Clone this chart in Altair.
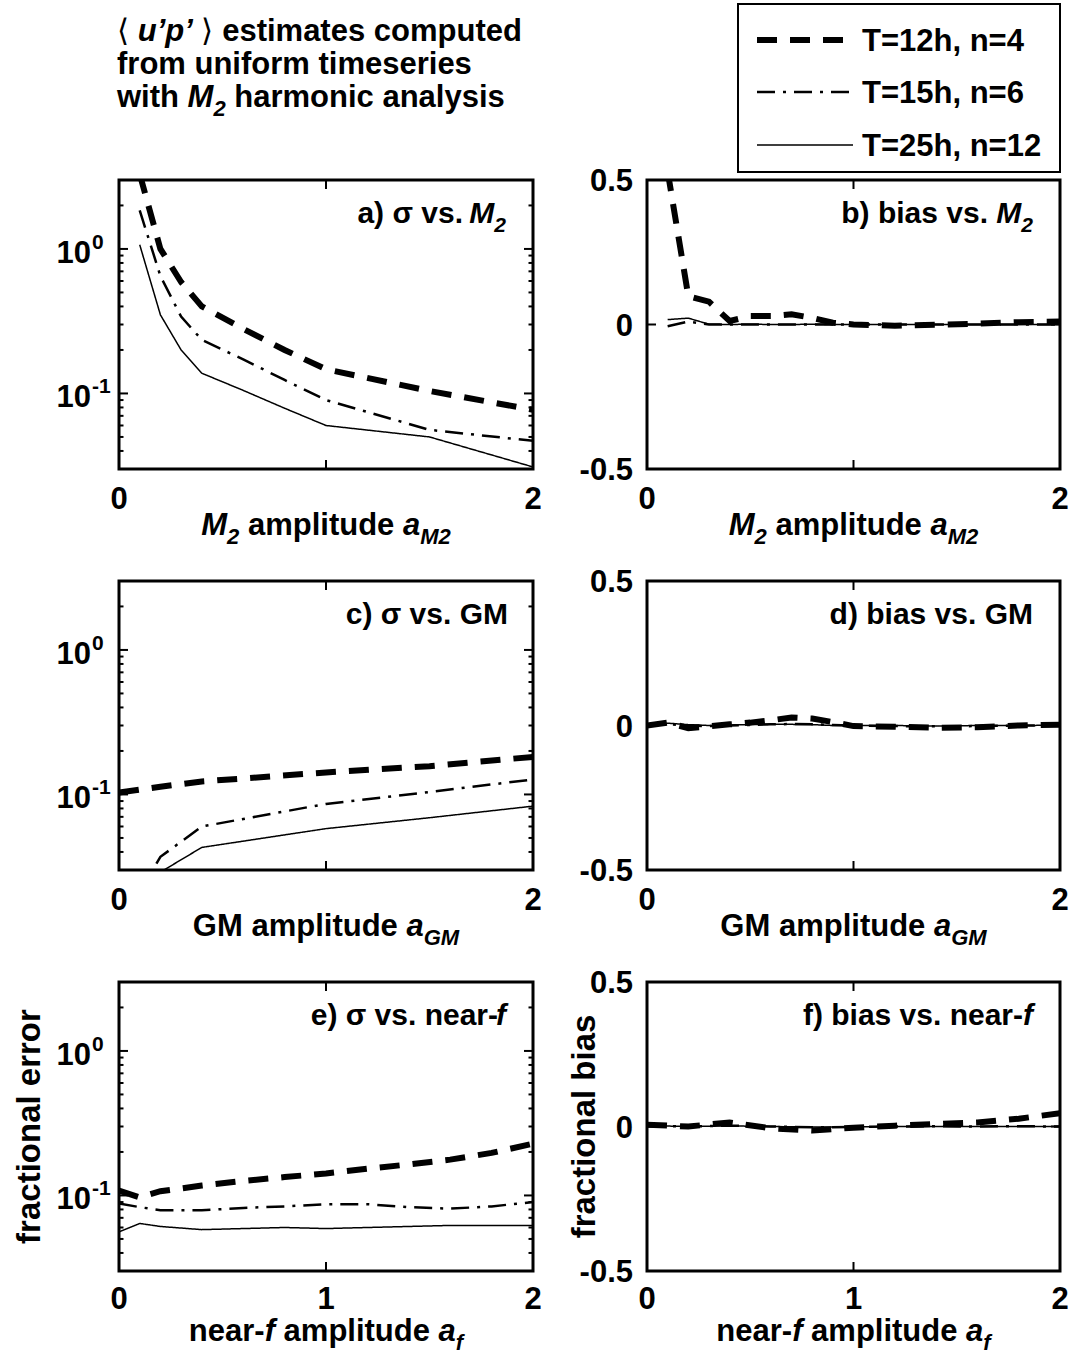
import altair as alt
import pandas as pd

FONT = "Liberation Sans"
SERIES = ["T=12h, n=4", "T=15h, n=6", "T=25h, n=12"]
DASH = [[20, 13], [18, 8, 3, 8], [1, 0]]
LW = [6, 2.5, 1.5]

# (a) sigma vs M2
A_X = [0.1, 0.2, 0.3, 0.4, 0.6, 0.8, 1.0, 1.5, 2.0]
A_T12 = [3.3, 1.0, 0.59, 0.40, 0.28, 0.20, 0.147, 0.104, 0.077]
A_T15 = [1.85, 0.65, 0.34, 0.235, 0.172, 0.124, 0.090, 0.056, 0.047]
A_T25 = [1.07, 0.35, 0.20, 0.138, 0.105, 0.079, 0.060, 0.050, 0.031]

# (b) bias vs M2
B_X = [0.1, 0.2, 0.3, 0.4, 0.5, 0.6, 0.7, 0.8, 0.9, 1.0, 1.2, 1.4, 1.6, 1.8, 2.0]
B_T12 = [0.53, 0.098, 0.079, 0.012, 0.029, 0.029, 0.035, 0.023, 0.006, 0.0, -0.004, -0.001, 0.003, 0.008, 0.01]
B_T15 = [-0.006, 0.010, 0.0, 0.0, 0.0, 0.0, 0.0, 0.0, 0.0, 0.0, 0.0, 0.0, 0.0, 0.0, 0.0]
B_T25 = [0.017, 0.022, 0.001, 0.0, 0.001, 0.0, 0.0, 0.001, 0.0, 0.0, 0.0, 0.0, 0.0, 0.0, 0.0]

# (c) sigma vs GM
C_X = [0.0, 0.2, 0.4, 1.0, 1.5, 2.0]
C_T12 = [0.103, 0.113, 0.123, 0.142, 0.157, 0.182]
C_T15 = [0.012, 0.037, 0.060, 0.086, 0.104, 0.127]
C_T25 = [0.019, 0.029, 0.043, 0.058, 0.069, 0.083]

# (d) bias vs GM
D_X = [0, 0.1, 0.2, 0.3, 0.4, 0.5, 0.6, 0.7, 0.8, 0.9, 1.0, 1.2, 1.4, 1.6, 1.8, 2.0]
D_T12 = [0.0, 0.010, -0.009, -0.003, 0.004, 0.010, 0.018, 0.028, 0.024, 0.012, -0.002, -0.004, -0.008, -0.006, 0.0, 0.003]
D_T15 = [0.0, 0.005, 0.0, -0.002, 0.0, 0.002, 0.004, 0.005, 0.004, 0.002, 0.0, -0.002, -0.003, -0.002, 0.0, 0.0]
D_T25 = [0.0, 0.008, 0.003, 0.0, 0.002, 0.003, 0.004, 0.004, 0.003, 0.0, 0.0, 0.0, -0.002, 0.0, 0.0, 0.001]

# (e) sigma vs near-f
E_X = [0, 0.1, 0.2, 0.4, 0.6, 0.8, 1.0, 1.2, 1.4, 1.6, 1.8, 2.0]
E_T12 = [0.108, 0.097, 0.107, 0.117, 0.126, 0.134, 0.142, 0.153, 0.164, 0.177, 0.197, 0.228]
E_T15 = [0.088, 0.083, 0.079, 0.079, 0.082, 0.084, 0.087, 0.087, 0.083, 0.081, 0.084, 0.090]
E_T25 = [0.056, 0.064, 0.061, 0.058, 0.059, 0.060, 0.059, 0.060, 0.061, 0.062, 0.062, 0.062]

# (f) bias vs near-f
F_X = [0, 0.2, 0.4, 0.6, 0.8, 1.0, 1.2, 1.4, 1.6, 1.8, 2.0]
F_T12 = [0.006, 0.0, 0.014, -0.006, -0.014, -0.004, 0.003, 0.009, 0.014, 0.027, 0.046]
F_T15 = [0.002, 0.0, 0.003, 0.0, -0.003, -0.002, 0.0, 0.001, 0.0, 0.001, 0.0]
F_T25 = [0.003, 0.0, 0.002, 0.0, -0.002, -0.001, 0.0, 0.0, 0.0, 0.0, 0.0]

LOG_MAJOR = [0.1, 1.0]
LOG_MINOR = [0.03, 0.04, 0.05, 0.06, 0.07, 0.08, 0.09, 0.2, 0.3, 0.4, 0.5, 0.6, 0.7, 0.8, 0.9, 2.0, 3.0]
LOG_LABELS = ["10", "10"]
LOG_EXP = ["-1", "0"]
BIAS_TICKS = [-0.5, 0.0, 0.5]
BIAS_LABELS = ["-0.5", "0", "0.5"]

H = 289
WL = 414
WR = 413
FS = 31       # general text
TICK_FS = 31  # tick labels
LAB_FS = 30   # panel labels
YT_FS = 33    # y titles
SUB = 22

MET = {' ': 278, 'a': 556, 'b': 611, 'c': 556, 'd': 611, 'e': 556, 'f': 333, 'g': 611, 'h': 611,
       'i': 278, 'l': 278, 'm': 889, 'n': 611, 'o': 611, 'p': 611, 'r': 389, 's': 556, 't': 333,
       'u': 611, 'v': 556, 'w': 778, 'y': 556, 'x': 556, 'M': 833, 'G': 778, 'T': 611, '-': 333,
       '=': 584, ',': 278, '.': 278, ')': 333, 'σ': 618, '’': 278, "'": 238, '⟨': 390, '⟩': 390}


def tw(s, size):
    return sum(MET.get(ch, 556) for ch in s) * size / 1000.0


def one():
    return alt.Data(values=[{}])


def txt(t, x, y, size, italic=False, weight="bold", align="left", angle=0, baseline="alphabetic"):
    return alt.Chart(one()).mark_text(
        text=t, font=FONT, fontSize=size, fontStyle="italic" if italic else "normal",
        fontWeight=weight, align=align, baseline=baseline, angle=angle, color="black"
    ).encode(x=alt.value(x), y=alt.value(y))


def rich(pieces, x, y, anchor="left", size=FS, sub=SUB):
    widths = []
    for t, st in pieces:
        s = sub if st == "sub" else size
        widths.append(tw(t, s))
    total = sum(widths)
    if anchor == "left":
        cx = x
    elif anchor == "right":
        cx = x - total
    else:
        cx = x - total / 2.0
    out = []
    for (t, st), w in zip(pieces, widths):
        s = sub if st == "sub" else size
        lead = len(t) - len(t.lstrip(" "))
        core = t.strip(" ")
        px = cx + tw(" " * lead, s)
        dy = 9 if st == "sub" else 0
        out.append(txt(core, px, y + dy, s, italic=st in ("bi", "sub"),
                       weight="normal" if st == "thin" else "bold"))
        cx += w
    return out


def panel(xs, ys_list, kind, W, label, xtitle, xt_vals, xt_labels, ytitle=None, ytitle_x=None,
          extra=None, xtitle_y=66, xtick_y=40):
    XS = alt.Scale(domain=[0, 2], nice=False, zero=False)
    if kind == "log":
        YS = alt.Scale(type="log", domain=[0.03, 3], nice=False)
    else:
        YS = alt.Scale(domain=[-0.5, 0.5], nice=False, zero=False)
    layers = []
    for i, ys in enumerate(ys_list):
        df = pd.DataFrame({"x": xs, "y": ys})
        layers.append(alt.Chart(df).mark_line(
            clip=True, color="black", strokeDash=DASH[i], strokeWidth=LW[i], strokeCap="butt"
        ).encode(x=alt.X("x:Q", scale=XS, axis=None), y=alt.Y("y:Q", scale=YS, axis=None)))

    def yrule(vals, x1, x2):
        return alt.Chart(pd.DataFrame({"v": vals})).mark_rule(color="black", strokeWidth=2).encode(
            y=alt.Y("v:Q", scale=YS, axis=None), x=alt.value(x1), x2=alt.value(x2))

    def xrule(vals, y1, y2):
        return alt.Chart(pd.DataFrame({"v": vals})).mark_rule(color="black", strokeWidth=2).encode(
            x=alt.X("v:Q", scale=XS, axis=None), y=alt.value(y1), y2=alt.value(y2))

    if kind == "log":
        layers += [yrule(LOG_MAJOR, 0, 9), yrule(LOG_MAJOR, W, W - 9),
                   yrule(LOG_MINOR, 0, 4.5), yrule(LOG_MINOR, W, W - 4.5)]
        lab = pd.DataFrame({"v": LOG_MAJOR, "t": LOG_LABELS, "e": LOG_EXP})
        layers.append(alt.Chart(lab).mark_text(font=FONT, fontSize=TICK_FS, fontWeight="bold", align="right",
                                               baseline="alphabetic", dy=14, color="black").encode(
            y=alt.Y("v:Q", scale=YS, axis=None), x=alt.value(-28), text="t:N"))
        layers.append(alt.Chart(lab).mark_text(font=FONT, fontSize=21, fontWeight="bold", align="left",
                                               baseline="alphabetic", dy=0, color="black").encode(
            y=alt.Y("v:Q", scale=YS, axis=None), x=alt.value(-27), text="e:N"))
    else:
        layers += [yrule([0.0], 0, 9), yrule([0.0], W, W - 9)]
        lab = pd.DataFrame({"v": BIAS_TICKS, "t": BIAS_LABELS})
        layers.append(alt.Chart(lab).mark_text(font=FONT, fontSize=TICK_FS, fontWeight="bold", align="right",
                                               baseline="alphabetic", dy=11, color="black").encode(
            y=alt.Y("v:Q", scale=YS, axis=None), x=alt.value(-14), text="t:N"))
    layers += [xrule([1.0], 0, 9), xrule([1.0], H, H - 9)]
    xl = pd.DataFrame({"v": xt_vals, "t": xt_labels})
    layers.append(alt.Chart(xl).mark_text(font=FONT, fontSize=TICK_FS, fontWeight="bold", align="center",
                                          baseline="alphabetic", color="black").encode(
        x=alt.X("v:Q", scale=XS, axis=None), y=alt.value(H + xtick_y), text="t:N"))
    layers += rich(label, W - 27, 43, anchor="right", size=LAB_FS, sub=21)
    layers += rich(xtitle, W / 2.0, H + xtitle_y, anchor="center")
    if ytitle:
        layers.append(txt(ytitle, ytitle_x, H / 2.0, YT_FS, align="center", angle=270, baseline="middle"))
    if extra:
        layers += extra
    return alt.layer(*layers).properties(width=W, height=H)


M2_TITLE = [("M", "bi"), ("2", "sub"), (" amplitude ", "b"), ("a", "bi"), ("M2", "sub")]
GM_TITLE = [("GM amplitude ", "b"), ("a", "bi"), ("GM", "sub")]
NF_TITLE = [("near-", "b"), ("f", "bi"), (" amplitude ", "b"), ("a", "bi"), ("f", "sub")]

header = []
header += rich([("⟨ ", "thin"), ("u’p’", "bi"), (" ⟩ ", "thin"), ("estimates computed", "b")], -2, -139)
header += rich([("from uniform timeseries", "b")], -2, -106)
header += rich([("with ", "b"), ("M", "bi"), ("2", "sub"), (" harmonic analysis", "b")], -2, -73)

legend = [alt.Chart(one()).mark_rect(fill="white", stroke="black", strokeWidth=2).encode(
    x=alt.value(91), x2=alt.value(413), y=alt.value(-176), y2=alt.value(-8))]
ROWS = [-140, -88, -35]
for i, name in enumerate(SERIES):
    legend.append(alt.Chart(one()).mark_rule(color="black", strokeDash=DASH[i], strokeWidth=LW[i],
                                             strokeCap="butt").encode(
        x=alt.value(110), x2=alt.value(206), y=alt.value(ROWS[i])))
    legend.append(txt(name, 215, ROWS[i] + 11, FS))

pa = panel(A_X, [A_T12, A_T15, A_T25], "log", WL, [("a) σ vs. ", "b"), ("M", "bi"), ("2", "sub")],
           M2_TITLE, [0, 2], ["0", "2"], extra=header)
pb = panel(B_X, [B_T12, B_T15, B_T25], "lin", WR, [("b) bias vs. ", "b"), ("M", "bi"), ("2", "sub")],
           M2_TITLE, [0, 2], ["0", "2"], extra=legend)
pc = panel(C_X, [C_T12, C_T15, C_T25], "log", WL, [("c) σ vs. GM", "b")],
           GM_TITLE, [0, 2], ["0", "2"])
pd_ = panel(D_X, [D_T12, D_T15, D_T25], "lin", WR, [("d) bias vs. GM", "b")],
            GM_TITLE, [0, 2], ["0", "2"])
pe = panel(E_X, [E_T12, E_T15, E_T25], "log", WL, [("e) σ vs. near-", "b"), ("f", "bi")],
           NF_TITLE, [0, 1, 2], ["0", "1", "2"], ytitle="fractional error", ytitle_x=-89,
           xtitle_y=70, xtick_y=38)
pf = panel(F_X, [F_T12, F_T15, F_T25], "lin", WR, [("f) bias vs. near-", "b"), ("f", "bi")],
           NF_TITLE, [0, 1, 2], ["0", "1", "2"], ytitle="fractional bias", ytitle_x=-62,
           xtitle_y=70, xtick_y=38)

chart = alt.concat(pa, pb, pc, pd_, pe, pf, columns=2,
                   spacing={"row": 112, "column": 114}, bounds="flush").properties(
    padding={"left": 12, "top": 1, "right": 0, "bottom": 0}
).configure_view(stroke="black", strokeWidth=3)

chart.save("out.html", embed_options={"renderer": "svg", "actions": False})
